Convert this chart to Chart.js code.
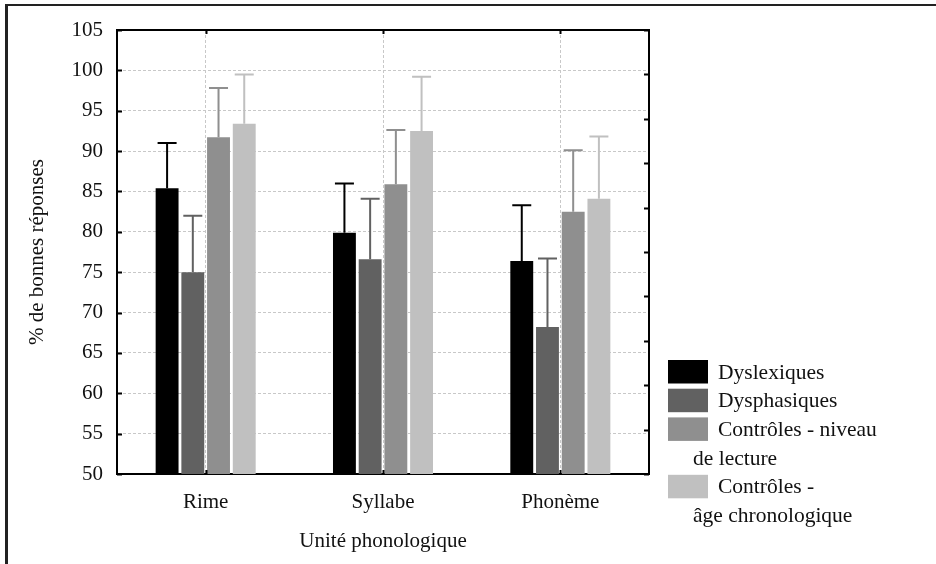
<!DOCTYPE html>
<html>
<head>
<meta charset="utf-8">
<script src="https://cdn.jsdelivr.net/npm/chart.js@4.4.1/dist/chart.umd.min.js"></script>
<style>
    html, body { margin: 0; padding: 0; background: #fff; }
</style>
</head>
<body>
<canvas id="scoresChart" width="936" height="564"></canvas>
<script>
// Pourcentage de bonnes réponses par unité phonologique
var unites = ["Rime", "Syllabe", "Phonème"];

var dyslexiques = [85.4, 79.9, 76.4];
var dysphasiques = [75.0, 76.6, 68.2];
var niveauLecture = [91.7, 85.9, 82.5];
var ageChrono = [93.4, 92.5, 84.1];

// écarts-types (barre d'erreur vers le haut seulement)
var etDyslexiques = [5.6, 6.1, 6.9];
var etDysphasiques = [7.0, 7.5, 8.5];
var etNiveauLecture = [6.1, 6.7, 7.6];
var etAgeChrono = [6.1, 6.7, 7.7];

var groupes = [["Dyslexiques"], ["Dysphasiques"], ["Contrôles - niveau", "de lecture"], ["Contrôles -", "âge chronologique"]];
var couleurs = ["#000000", "#616161", "#8f8f8f", "#c0c0c0"];

var yMin = 50, yMax = 105, yPas = 5;

var police = "'Liberation Serif', 'Times New Roman', serif";
Chart.defaults.font.family = police;
Chart.defaults.font.size = 21;
Chart.defaults.color = "#111";

// cadre extérieur de la figure
var cadre = {
    id: "cadre",
    beforeDraw: function (chart) {
        var c = chart.ctx;
        c.save();
        c.fillStyle = "#fff";
        c.fillRect(0, 0, chart.width, chart.height);
        c.strokeStyle = "#222";
        c.lineWidth = 3;
        c.beginPath(); c.moveTo(6.5, 4); c.lineTo(6.5, chart.height); c.stroke();
        c.lineWidth = 2;
        c.beginPath(); c.moveTo(5, 5); c.lineTo(chart.width, 5); c.stroke();
        c.restore();
    }
};

// barres d'erreur
var barresErreur = {
    id: "barresErreur",
    afterDatasetsDraw: function (chart) {
        var c = chart.ctx, y = chart.scales.y;
        c.save();
        c.lineWidth = 2;
        chart.data.datasets.forEach(function (ds, i) {
            chart.getDatasetMeta(i).data.forEach(function (bar, j) {
                var haut = y.getPixelForValue(ds.data[j] + ds.ecarts[j]);
                c.strokeStyle = ds.backgroundColor;
                c.beginPath();
                c.moveTo(bar.x, bar.y);
                c.lineTo(bar.x, haut);
                c.moveTo(bar.x - 9.5, haut);
                c.lineTo(bar.x + 9.5, haut);
                c.stroke();
            });
        });
        c.restore();
    }
};

// graduations tournées vers l'intérieur
var graduations = {
    id: "graduations",
    afterDraw: function (chart) {
        var c = chart.ctx, a = chart.chartArea, s = chart.scales;
        c.save();
        c.strokeStyle = "#000";
        c.lineWidth = 2;
        c.beginPath();
        s.y.ticks.forEach(function (t) {
            var p = Math.round(s.y.getPixelForValue(t.value)) + 0.5;
            c.moveTo(a.left, p); c.lineTo(a.left + 5, p);
        });
        s.y2.ticks.forEach(function (t) {
            var p = Math.round(s.y2.getPixelForValue(t.value)) + 0.5;
            c.moveTo(a.right - 5, p); c.lineTo(a.right, p);
        });
        unites.forEach(function (u, j) {
            var p = Math.round(s.x.getPixelForValue(j)) + 0.5;
            c.moveTo(p, a.top); c.lineTo(p, a.top + 4);
            c.moveTo(p, a.bottom); c.lineTo(p, a.bottom - 4);
        });
        c.stroke();
        c.restore();
    }
};

// légende à droite, avec retour à la ligne
var legende = {
    id: "legende",
    afterDraw: function (chart) {
        var c = chart.ctx, a = chart.chartArea;
        var x0 = a.right + 19, y = a.bottom - 114, pas = 28.7;
        c.save();
        c.font = "21.5px " + police;
        c.textBaseline = "middle";
        groupes.forEach(function (lignes, i) {
            c.fillStyle = couleurs[i];
            c.fillRect(x0, y, 40, 23.5);
            c.fillStyle = "#111";
            lignes.forEach(function (txt, k) {
                c.fillText(txt, k === 0 ? x0 + 50 : x0 + 25, y + 13 + k * pas);
            });
            y += pas * lignes.length;
        });
        c.restore();
    }
};

var series = [dyslexiques, dysphasiques, niveauLecture, ageChrono];
var ecarts = [etDyslexiques, etDysphasiques, etNiveauLecture, etAgeChrono];

new Chart(document.getElementById("scoresChart").getContext("2d"), {
    type: "bar",
    data: {
        labels: unites,
        datasets: series.map(function (d, i) {
            return {
                label: groupes[i].join(" "),
                data: d,
                ecarts: ecarts[i],
                backgroundColor: couleurs[i],
                borderWidth: 0,
                categoryPercentage: 0.58,
                barPercentage: 0.89
            };
        })
    },
    options: {
        responsive: false,
        animation: false,
        layout: { padding: { left: 0, top: 30, right: 287, bottom: 0 } },
        plugins: {
            legend: { display: false },
            tooltip: { enabled: false }
        },
        scales: {
            x: {
                position: "bottom",
                offset: true,
                grid: { offset: false, color: "#c8c8c8", drawTicks: false },
                border: { color: "#000", width: 2, dash: [3, 2] },
                ticks: { padding: 16 },
                title: { display: true, text: "Unité phonologique", padding: { top: 0, bottom: 10 } },
                afterFit: function (s) { s.height = 90; }
            },
            x2: {
                type: "category",
                position: "top",
                labels: unites,
                offset: true,
                grid: { drawOnChartArea: false, drawTicks: false },
                border: { color: "#000", width: 2 },
                ticks: { display: false },
                afterFit: function (s) { s.height = 0; }
            },
            y: {
                min: yMin,
                max: yMax,
                grid: { color: "#c8c8c8", drawTicks: false },
                border: { color: "#000", width: 2, dash: [3, 2] },
                ticks: { stepSize: yPas, padding: 14 },
                title: { display: true, text: "% de bonnes réponses", padding: { top: 25, bottom: 0 } },
                afterFit: function (s) { s.width = 117; }
            },
            y2: {
                position: "right",
                min: 0,
                max: 10,
                grid: { drawOnChartArea: false, drawTicks: false },
                border: { color: "#000", width: 2 },
                ticks: { display: false, stepSize: 1 },
                afterFit: function (s) { s.width = 0; }
            }
        }
    },
    plugins: [cadre, barresErreur, graduations, legende]
});
</script>
</body>
</html>
